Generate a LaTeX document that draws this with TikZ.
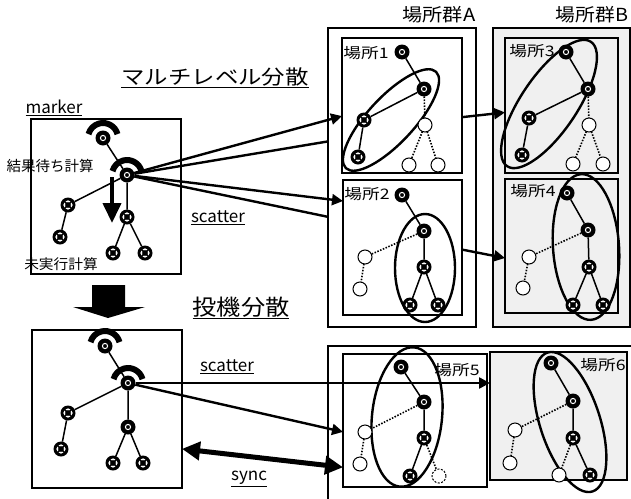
\documentclass[tikz,border=0pt]{standalone}
\usepackage{fontspec}
\setmainfont{Noto Sans CJK JP}
\usetikzlibrary{arrows.meta,calc}
\newcommand{\hsc}[2]{\scalebox{#1}[1]{#2}}
\begin{document}
\begin{tikzpicture}[x=1pt,y=-1pt,
  bd/.style={circle, fill=black, minimum size=15pt, inner sep=0pt, outer sep=0pt,
    path picture={\draw[white,line width=1pt] (path picture bounding box.center) circle[radius=2.6pt];}},
  bx/.style={circle, fill=black, minimum size=15pt, inner sep=0pt, outer sep=0pt,
    path picture={\draw[white,line width=1.5pt] (path picture bounding box.center) circle[radius=3.8pt];
      \draw[black,line width=1.5pt] ([shift={(-4.5pt,-4.5pt)}]path picture bounding box.center) -- ([shift={(4.5pt,4.5pt)}]path picture bounding box.center)
        ([shift={(-4.5pt,4.5pt)}]path picture bounding box.center) -- ([shift={(4.5pt,-4.5pt)}]path picture bounding box.center);}},
  op/.style={circle, draw, fill=white, line width=1pt, minimum size=14pt, inner sep=0pt, outer sep=0pt},
  dop/.style={op, dash pattern=on 2pt off 1.5pt},
  tline/.style={line width=1.5pt},
  dline/.style={line width=1.6pt, dash pattern=on 1.5pt off 1.5pt},
  boxn/.style={draw, line width=2.4pt, inner sep=0pt, outer sep=0pt},
  ell/.style={line width=2.4pt},
  mk/.style={line width=6pt},
  conn/.style={line width=2.4pt},
  tip/.style={-{Triangle[length=11pt,width=11pt]}},
  lab/.style={inner sep=0pt, outer sep=0pt},
]
\useasboundingbox (0,0) rectangle (631,498);

% ---------- boxes ----------
\node[boxn, fill=gray!12, minimum width=137pt, minimum height=299pt] (GB) at (561.5,177.5) {};
\node[boxn, minimum width=148pt, minimum height=299pt] (GA) at (402,177.5) {};
\node[boxn, minimum width=120pt, minimum height=135pt] (pl1) at (402,105.5) {};
\node[boxn, minimum width=119pt, minimum height=135pt] (pl2) at (402.5,247.5) {};
\node[boxn, fill=gray!12, minimum width=113pt, minimum height=135pt] (pl3) at (561.5,105.5) {};
\node[boxn, fill=gray!12, minimum width=113pt, minimum height=134pt] (pl4) at (561.5,246) {};
\node[boxn, minimum width=312pt, minimum height=164pt] (LO) at (484,428) {};
\node[boxn, minimum width=144pt, minimum height=133pt] (pl5) at (415,420.5) {};
\node[boxn, fill=gray!12, minimum width=137pt, minimum height=128pt] (pl6) at (558.5,416) {};
\node[boxn, minimum width=150pt, minimum height=155pt] (TL) at (106,196.5) {};
\node[boxn, minimum width=150pt, minimum height=158pt] (BL) at (107,409) {};

% ---------- labels ----------
\node[lab, font=\fontsize{18pt}{20pt}\selectfont] (tA) at (439,15) {\hsc{1.12}{場所群A}};
\node[lab, font=\fontsize{18pt}{20pt}\selectfont] (tB) at (592,15) {\hsc{1.1}{場所群B}};
\node[lab, font=\fontsize{20pt}{22pt}\selectfont] (tML) at (215,78) {\hsc{1.17}{\underline{マルチレベル分散}}};
\node[lab, font=\fontsize{22pt}{24pt}\selectfont] (tTK) at (241,308) {\hsc{1.1}{\underline{投機分散}}};
\node[lab, font=\fontsize{17pt}{19pt}\selectfont] (tmk) at (54,108) {\underline{marker}};
\node[lab, font=\fontsize{14.5pt}{16pt}\selectfont] (twait) at (50,166) {結果待ち計算};
\node[lab, font=\fontsize{14pt}{16pt}\selectfont] (tnot) at (61,264) {\hsc{1.05}{未実行計算}};
\node[lab, font=\fontsize{17pt}{19pt}\selectfont] (tsc1) at (218,218) {\underline{scatter}};
\node[lab, font=\fontsize{17pt}{19pt}\selectfont] (tsc2) at (227,367) {\underline{scatter}};
\node[lab, font=\fontsize{17pt}{19pt}\selectfont] (tsync) at (249,479) {\underline{sync}};
\node[lab, font=\fontsize{14.5pt}{16pt}\selectfont] (t1) at (366,53) {\hsc{1.22}{場所1}};
\node[lab, font=\fontsize{14.5pt}{16pt}\selectfont] (t2) at (367,194) {\hsc{1.22}{場所2}};
\node[lab, font=\fontsize{14.5pt}{16pt}\selectfont] (t3) at (532,51) {\hsc{1.22}{場所3}};
\node[lab, font=\fontsize{14.5pt}{16pt}\selectfont] (t4) at (533,191) {\hsc{1.22}{場所4}};
\node[lab, font=\fontsize{14.5pt}{16pt}\selectfont] (t5) at (457,370) {\hsc{1.22}{場所5}};
\node[lab, font=\fontsize{14.5pt}{16pt}\selectfont] (t6) at (603,365) {\hsc{1.22}{場所6}};

% ---------- ellipses ----------
\draw[ell, rotate around={47:(391,120)}] (391,120) ellipse[x radius=66pt, y radius=23pt];
\draw[ell] (425,268) ellipse[x radius=30pt, y radius=54pt];
\draw[ell, rotate around={56:(549,104)}] (549,104) ellipse[x radius=75pt, y radius=28pt];
\draw[ell, rotate around={4:(586,247)}] (586,247) ellipse[x radius=33pt, y radius=73pt];
\draw[ell, rotate around={-6:(407,417)}] (407,417) ellipse[x radius=35pt, y radius=70pt];
\draw[ell, rotate around={18:(570,422)}] (570,422) ellipse[x radius=30pt, y radius=73pt];

% ---------- tree nodes ----------
\node[bd] (m1) at (103,138) {};
\node[bd] (m2) at (127,175) {};
\node[bx] (x1) at (68,205) {};
\node[bx] (x2) at (60,237) {};
\node[bx] (x3) at (127,217) {};
\node[bx] (x4) at (113,253) {};
\node[bx] (x5) at (145,253) {};

\node[bd] (q1) at (105,346) {};
\node[bd] (q2) at (128,383) {};
\node[bx] (q3) at (68,413) {};
\node[bx] (q4) at (61,449) {};
\node[bd] (q5) at (128,427) {};
\node[bx] (q6) at (113,463) {};
\node[bx] (q7) at (143,463) {};

\node[bd] (p1a) at (402,52) {};
\node[bd] (p1b) at (424,89) {};
\node[bx] (p1c) at (364,120) {};
\node[bx] (p1d) at (358,157) {};
\node[op] (p1e) at (425,125) {};
\node[op] (p1f) at (409,165) {};
\node[op] (p1g) at (438,165) {};

\node[bd] (p2a) at (402,195) {};
\node[bd] (p2b) at (424,231) {};
\node[bx] (p2c) at (424,267) {};
\node[bx] (p2d) at (410,305) {};
\node[bx] (p2e) at (438,305) {};
\node[op] (p2f) at (365,257) {};
\node[op] (p2g) at (360,289) {};

\node[bd] (p3a) at (566,52) {};
\node[bd] (p3b) at (588,89) {};
\node[bx] (p3c) at (529,118) {};
\node[bx] (p3d) at (522,155) {};
\node[op] (p3e) at (589,125) {};
\node[op] (p3f) at (573,164) {};
\node[op] (p3g) at (603,164) {};

\node[bd] (p4a) at (567,193) {};
\node[bd] (p4b) at (588,230) {};
\node[bx] (p4c) at (589,267) {};
\node[bx] (p4d) at (573,305) {};
\node[bx] (p4e) at (603,305) {};
\node[op] (p4f) at (529,257) {};
\node[op] (p4g) at (523,288) {};

\node[bd] (p5a) at (401,367) {};
\node[bd] (p5b) at (424,402) {};
\node[bx] (p5c) at (424,438) {};
\node[bx] (p5d) at (410,476) {};
\node[dop] (p5e) at (439,476) {};
\node[op] (p5f) at (365,432) {};
\node[op] (p5g) at (360,464) {};

\node[bd] (p6a) at (551,363) {};
\node[bd] (p6b) at (573,401) {};
\node[bx] (p6c) at (573,438) {};
\node[bx] (p6d) at (590,475) {};
\node[op] (p6e) at (559,475) {};
\node[op] (p6f) at (515,430) {};
\node[op] (p6g) at (510,463) {};

% ---------- tree edges ----------
\draw[tline] (m1)--(m2) (m2)--(x1) (x1)--(x2) (m2)--(x3) (x3)--(x4) (x3)--(x5);
\draw[tline] (q1)--(q2) (q2)--(q3) (q3)--(q4) (q2)--(q5) (q5)--(q6) (q5)--(q7);
\draw[tline] (p1a)--(p1b) (p1b)--(p1c) (p1c)--(p1d);
\draw[dline] (p1b)--(p1e) (p1e)--(p1f) (p1e)--(p1g);
\draw[tline] (p3a)--(p3b) (p3b)--(p3c) (p3c)--(p3d);
\draw[dline] (p3b)--(p3e) (p3e)--(p3f) (p3e)--(p3g);
\draw[tline] (p2a)--(p2b) (p2b)--(p2c) (p2c)--(p2d) (p2c)--(p2e);
\draw[dline] (p2b)--(p2f) (p2f)--(p2g);
\draw[tline] (p4a)--(p4b) (p4b)--(p4c) (p4c)--(p4d) (p4c)--(p4e);
\draw[dline] (p4b)--(p4f) (p4f)--(p4g);
\draw[tline] (p5a)--(p5b) (p5b)--(p5c) (p5c)--(p5d);
\draw[dline] (p5b)--(p5f) (p5f)--(p5g) (p5c)--(p5e);
\draw[tline] (p6a)--(p6b) (p6b)--(p6c) (p6c)--(p6d);
\draw[dline] (p6b)--(p6f) (p6f)--(p6g) (p6c)--(p6e);

% ---------- markers ----------
\draw[mk] ([shift={(15:15pt)}]m1.center) arc[start angle=15, end angle=165, radius=15pt];
\draw[mk] ([shift={(15:15pt)}]m2.center) arc[start angle=15, end angle=165, radius=15pt];
\draw[mk] ([shift={(15:15pt)}]q1.center) arc[start angle=15, end angle=165, radius=15pt];
\draw[mk] ([shift={(15:15pt)}]q2.center) arc[start angle=15, end angle=165, radius=15pt];

% ---------- down arrow in upper panel ----------
\coordinate (da1) at (112,177);
\coordinate (da2) at (112,223);
\draw[line width=4pt, -{Triangle[length=20pt,width=18pt]}] (da1) -- (da2);

% ---------- big block arrow ----------
\fill (92,285) -- (125,285) -- (125,307) -- (145,307) -- (108,318) -- (73,307) -- (92,307) -- cycle;

% ---------- scatter connectors (multi-level) ----------
\draw[conn, tip] (m2) -- (pl1.190);
\draw[conn] (m2) -- (GA.154.4);
\draw[conn, tip] (m2) -- (pl2.142);
\draw[conn] (m2) -- (GA.208.7);
\draw[conn, tip] (pl1.-11.8) -- (pl3.187.6);
\draw[conn, tip] (pl2.-2.4) -- (pl4.192);

% ---------- speculative ----------
\draw[conn, tip] (q2) -- (q2 -| pl6.west);
\draw[conn, tip] (q2) -- (pl5.189.1);
\draw[line width=5pt, {Triangle[length=18pt,width=18pt]}-{Triangle[length=18pt,width=18pt]}] (BL.-28.7) -- (pl5.213.4);
\end{tikzpicture}
\end{document}
